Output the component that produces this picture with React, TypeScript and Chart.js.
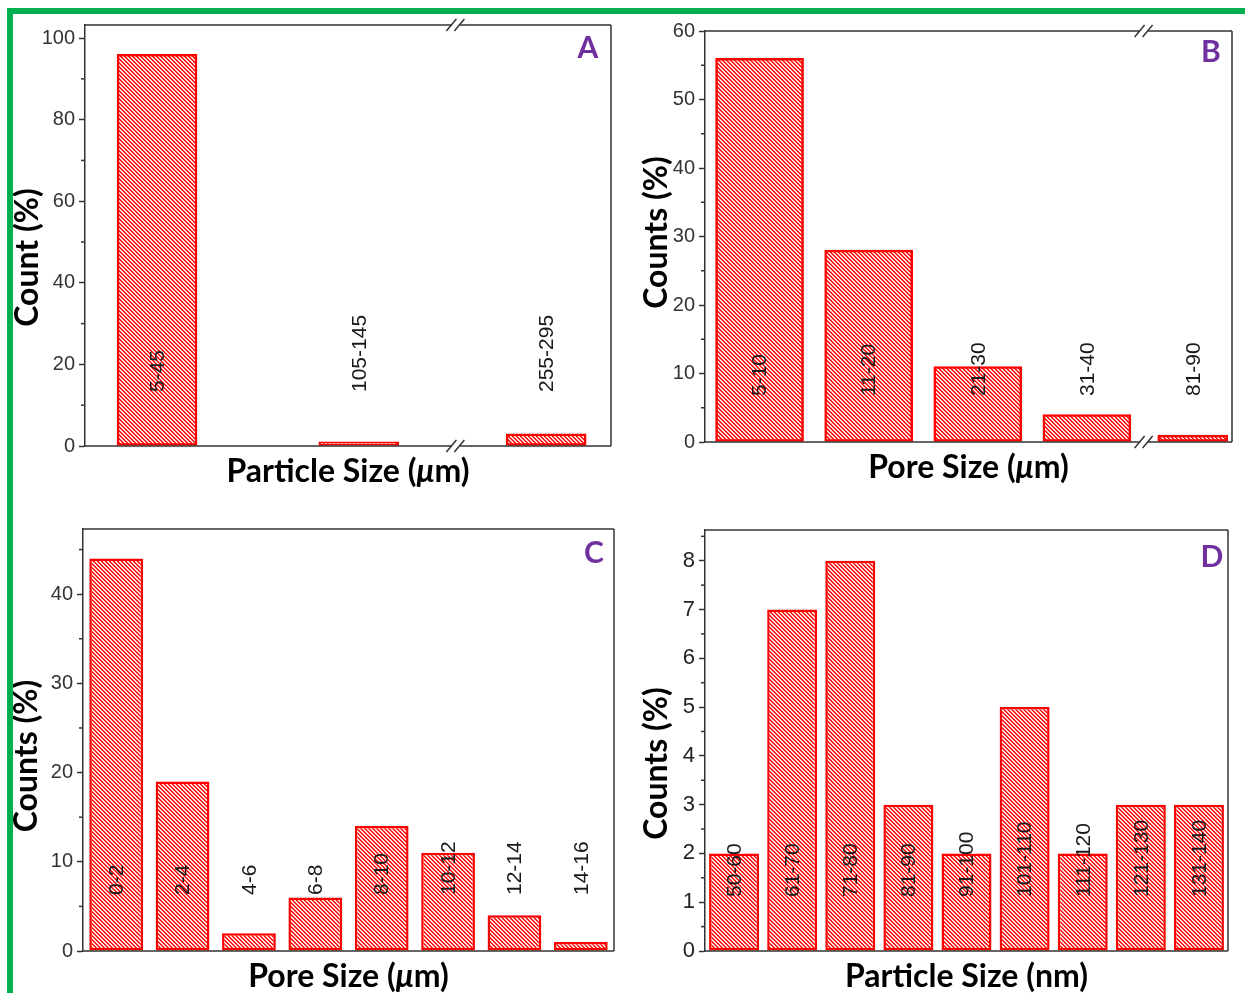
import React, { useEffect, useRef } from 'react';
import { Chart, registerables } from 'chart.js';

Chart.register(...registerables);

// ---------- data ----------
const binsA = ['5-45', '105-145', '255-295'];
const countA = [96, 1, 3];
const xA = [1, 3.8, 6.4]; // bin positions along the broken particle-size axis

const binsB = ['5-10', '11-20', '21-30', '31-40', '81-90'];
const countB = [56, 28, 11, 4, 1];
const xB = [1, 2, 3, 4, 4.97]; // bin positions along the broken pore-size axis

const binsC = ['0-2', '2-4', '4-6', '6-8', '8-10', '10-12', '12-14', '14-16'];
const countC = [44, 19, 2, 6, 14, 11, 4, 1];

const binsD = ['50-60', '61-70', '71-80', '81-90', '91-100', '101-110', '111-120', '121-130', '131-140'];
const countD = [2, 7, 8, 3, 2, 5, 2, 3, 3];

// ---------- helpers ----------
const RED = '#ff0000';
const FRAME = '#333333';
const PURPLE = '#7030A0';
const TITLE_FONT = 'Lato';
const TICK_FONT = 'Liberation Sans';
const TITLE_SIZE = 32;

function makeHatch(ctx: CanvasRenderingContext2D) {
  const P = 4;
  const shades = [RED, '#ff3a3a', '#ffffff', '#ffc4c4'];
  const c = document.createElement('canvas');
  c.width = P;
  c.height = P;
  const g = c.getContext('2d')!;
  for (let y = 0; y < P; y++) {
    for (let x = 0; x < P; x++) {
      const m = (((x - y) % P) + P) % P;
      g.fillStyle = shades[m];
      g.fillRect(x, y, 1, 1);
    }
  }
  return ctx.createPattern(c, 'repeat') as CanvasPattern;
}

const decorPlugin = {
  id: 'decor',
  afterDatasetsDraw(chart: any, _args: any, o: any) {
    const ctx: CanvasRenderingContext2D = chart.ctx;
    const { left, right, top, bottom } = chart.chartArea;
    const ys = chart.scales.y;
    const xs = chart.scales.x;
    ctx.save();

    // minor ticks
    ctx.strokeStyle = FRAME;
    ctx.lineWidth = 1.5;
    const steps = Math.round(o.maxY / o.minor) + 1;
    for (let i = 1; i <= steps; i++) {
      const v = i * o.minor;
      if (v > o.maxY + 1e-9) break;
      const r = v / o.major;
      if (Math.abs(r - Math.round(r)) < 1e-6) continue;
      const py = ys.getPixelForValue(v);
      ctx.beginPath();
      ctx.moveTo(left - 4, py);
      ctx.lineTo(left, py);
      ctx.stroke();
    }

    // frame (top, right, bottom) with optional axis break
    const bx = o.breakAt != null ? xs.getPixelForValue(o.breakAt) : null;
    const hline = (yy: number) => {
      ctx.beginPath();
      if (bx == null) {
        ctx.moveTo(left, yy);
        ctx.lineTo(right, yy);
      } else {
        ctx.moveTo(left, yy);
        ctx.lineTo(bx - 4, yy);
        ctx.moveTo(bx + 4, yy);
        ctx.lineTo(right, yy);
      }
      ctx.stroke();
      if (bx != null) {
        for (const dx of [-4, 4]) {
          ctx.beginPath();
          ctx.moveTo(bx + dx - 5, yy + 6);
          ctx.lineTo(bx + dx + 5, yy - 6);
          ctx.stroke();
        }
      }
    };
    hline(top);
    hline(bottom);
    ctx.beginPath();
    ctx.moveTo(right, top);
    ctx.lineTo(right, bottom);
    ctx.stroke();

    // rotated bin labels
    const els: any[] = [];
    chart.data.datasets.forEach((_d: any, i: number) => {
      chart.getDatasetMeta(i).data.forEach((e: any) => els.push(e));
    });
    ctx.fillStyle = '#1a1a1a';
    ctx.font = `${o.labelSize}px "${TICK_FONT}"`;
    ctx.textAlign = 'left';
    ctx.textBaseline = 'middle';
    els.forEach((e, j) => {
      const t = o.labels[j];
      if (!t) return;
      ctx.save();
      ctx.translate(e.x + 1, bottom - o.labelLift);
      ctx.rotate(-Math.PI / 2);
      ctx.fillText(t, 0, 0);
      ctx.restore();
    });

    // panel letter
    ctx.fillStyle = PURPLE;
    ctx.font = `bold 30px "${TITLE_FONT}"`;
    ctx.textAlign = 'center';
    ctx.textBaseline = 'middle';
    ctx.fillText(o.letter, right - o.letterDx, top + o.letterDy);

    // x title (mixed upright / italic)
    ctx.fillStyle = '#000000';
    ctx.textBaseline = 'middle';
    ctx.textAlign = 'left';
    const parts: { t: string; it: boolean }[] = o.xTitle;
    const fontOf = (it: boolean) => `${it ? 'italic ' : ''}bold ${TITLE_SIZE}px "${TITLE_FONT}"`;
    let total = 0;
    parts.forEach((p) => {
      ctx.font = fontOf(p.it);
      total += ctx.measureText(p.t).width;
    });
    let cx = (left + right) / 2 - total / 2;
    const ty = bottom + 26;
    parts.forEach((p) => {
      ctx.font = fontOf(p.it);
      ctx.fillText(p.t, cx, ty);
      cx += ctx.measureText(p.t).width;
    });

    // y title
    ctx.save();
    ctx.translate(left - o.yTitleDx, (top + bottom) / 2 + o.yTitleDy);
    ctx.rotate(-Math.PI / 2);
    ctx.font = `bold ${TITLE_SIZE}px "${TITLE_FONT}"`;
    ctx.textAlign = 'center';
    ctx.textBaseline = 'middle';
    ctx.fillText(o.yTitle, 0, 0);
    ctx.restore();

    ctx.restore();
  },
};

function yAxis(maxY: number, step: number, size: number, color: string) {
  return {
    min: 0,
    max: maxY,
    afterFit: (s: any) => {
      s.width = 50;
    },
    border: { display: true, color: FRAME, width: 1.5 },
    grid: {
      display: true,
      drawOnChartArea: false,
      drawTicks: true,
      tickLength: 6,
      tickColor: FRAME,
      tickWidth: 1.5,
      color: FRAME,
    },
    ticks: {
      stepSize: step,
      includeBounds: false,
      font: { family: TICK_FONT, size },
      color,
      padding: 4,
    },
  };
}

const barStyle = (ctx: CanvasRenderingContext2D) => ({
  backgroundColor: makeHatch(ctx),
  borderColor: RED,
  borderWidth: 2.5,
  borderSkipped: false,
});

type Spec = {
  left: number;
  top: number;
  width: number;
  height: number;
  build: (ctx: CanvasRenderingContext2D) => any;
};

const specs: Spec[] = [
  {
    left: 0,
    top: 0,
    width: 622,
    height: 500,
    build: (ctx) => ({
      type: 'bar',
      data: {
        datasets: [
          {
            ...barStyle(ctx),
            data: xA.map((x, i) => ({ x, y: countA[i] })),
            barThickness: 80,
          },
        ],
      },
      options: {
        animation: false,
        responsive: false,
        layout: { padding: { left: 35, top: 25, right: 11, bottom: 54 } },
        scales: {
          x: { type: 'linear', min: 0, max: 7.3, offset: false, display: false },
          y: yAxis(103.2, 20, 20, '#333333'),
        },
        plugins: {
          legend: { display: false },
          tooltip: { enabled: false },
          decor: {
            maxY: 103.2,
            major: 20,
            minor: 10,
            breakAt: 5.14,
            labels: binsA,
            labelSize: 21,
            labelLift: 54,
            letter: 'A',
            letterDx: 23,
            letterDy: 23,
            xTitle: [
              { t: 'Particle Size (', it: false },
              { t: 'μ', it: true },
              { t: 'm)', it: false },
            ],
            yTitle: 'Count (%)',
            yTitleDx: 57,
            yTitleDy: 22,
          },
        },
      },
    }),
  },
  {
    left: 622,
    top: 0,
    width: 623,
    height: 500,
    build: (ctx) => {
      const pts = xB.map((x, i) => ({ x, y: countB[i] }));
      const st = barStyle(ctx);
      return {
        type: 'bar',
        data: {
          datasets: [
            { ...st, grouped: false, data: pts.slice(0, 4), barThickness: 88 },
            { ...st, grouped: false, data: pts.slice(4), barThickness: 70 },
          ],
        },
        options: {
          animation: false,
          responsive: false,
          layout: { padding: { left: 33, top: 31, right: 13, bottom: 58 } },
          scales: {
            x: { type: 'linear', min: 0.5, max: 5.33, offset: false, display: false },
            y: yAxis(60, 10, 20, '#333333'),
          },
          plugins: {
            legend: { display: false },
            tooltip: { enabled: false },
            decor: {
              maxY: 60,
              major: 10,
              minor: 5,
              breakAt: 4.52,
              labels: binsB,
              labelSize: 21,
              labelLift: 46,
              letter: 'B',
              letterDx: 21,
              letterDy: 21,
              xTitle: [
                { t: 'Pore Size (', it: false },
                { t: 'μ', it: true },
                { t: 'm)', it: false },
              ],
              yTitle: 'Counts (%)',
              yTitleDx: 48,
              yTitleDy: -4,
            },
          },
        },
      };
    },
  },
  {
    left: 0,
    top: 500,
    width: 622,
    height: 493,
    build: (ctx) => ({
      type: 'bar',
      data: {
        labels: binsC,
        datasets: [
          {
            ...barStyle(ctx),
            data: countC,
            categoryPercentage: 1,
            barPercentage: 0.81,
          },
        ],
      },
      options: {
        animation: false,
        responsive: false,
        layout: { padding: { left: 33, top: 29, right: 8, bottom: 42 } },
        scales: {
          x: { type: 'category', display: false },
          y: yAxis(47.3, 10, 20, '#333333'),
        },
        plugins: {
          legend: { display: false },
          tooltip: { enabled: false },
          decor: {
            maxY: 47.3,
            major: 10,
            minor: 5,
            breakAt: null,
            labels: binsC,
            labelSize: 21,
            labelLift: 56,
            letter: 'C',
            letterDx: 20,
            letterDy: 24,
            xTitle: [
              { t: 'Pore Size (', it: false },
              { t: 'μ', it: true },
              { t: 'm)', it: false },
            ],
            yTitle: 'Counts (%)',
            yTitleDx: 56,
            yTitleDy: 16,
          },
        },
      },
    }),
  },
  {
    left: 622,
    top: 500,
    width: 623,
    height: 493,
    build: (ctx) => ({
      type: 'bar',
      data: {
        labels: binsD,
        datasets: [
          {
            ...barStyle(ctx),
            data: countD,
            categoryPercentage: 1,
            barPercentage: 0.86,
          },
        ],
      },
      options: {
        animation: false,
        responsive: false,
        layout: { padding: { left: 33, top: 30, right: 17, bottom: 42 } },
        scales: {
          x: { type: 'category', display: false },
          y: yAxis(8.63, 1, 22, '#222222'),
        },
        plugins: {
          legend: { display: false },
          tooltip: { enabled: false },
          decor: {
            maxY: 8.63,
            major: 1,
            minor: 0.5,
            breakAt: null,
            labels: binsD,
            labelSize: 21,
            labelLift: 54,
            letter: 'D',
            letterDx: 16,
            letterDy: 27,
            xTitle: [{ t: 'Particle Size (nm)', it: false }],
            yTitle: 'Counts (%)',
            yTitleDx: 48,
            yTitleDy: 23,
          },
        },
      },
    }),
  },
];

function Panel({ spec }: { spec: Spec }) {
  const ref = useRef<HTMLCanvasElement>(null);
  useEffect(() => {
    const canvas = ref.current!;
    const ctx = canvas.getContext('2d')!;
    const cfg = spec.build(ctx);
    cfg.plugins = [decorPlugin];
    const chart = new Chart(canvas, cfg);
    return () => chart.destroy();
  }, [spec]);
  return (
    <canvas
      ref={ref}
      width={spec.width}
      height={spec.height}
      style={{ position: 'absolute', left: spec.left, top: spec.top, width: spec.width, height: spec.height }}
    />
  );
}

export default function App() {
  useEffect(() => {
    document.body.style.margin = '0';
  }, []);
  return (
    <div style={{ position: 'absolute', left: 0, top: 0, width: 1245, height: 993, background: '#ffffff', overflow: 'hidden' }}>
      {specs.map((s, i) => (
        <Panel key={i} spec={s} />
      ))}
      <div style={{ position: 'absolute', left: 7, top: 8, width: 1238, height: 6, background: '#00B050' }} />
      <div style={{ position: 'absolute', left: 7, top: 8, width: 6, height: 985, background: '#00B050' }} />
    </div>
  );
}
